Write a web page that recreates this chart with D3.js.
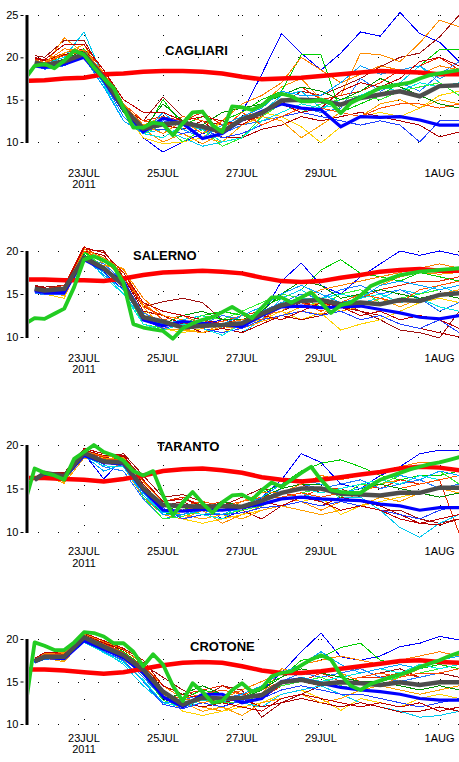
<!DOCTYPE html>
<html>
<head>
<meta charset="utf-8">
<script src="https://cdn.jsdelivr.net/npm/d3@7"></script>
<style>
  body { margin: 0; background: #fff; }
  svg { display: block; }
  text { font-family: "Liberation Sans", Arial, sans-serif; }
</style>
</head>
<body>
<div id="chart"></div>
<script>
// time axis, in days from 23JUL2011 00Z
const daysEns = [-1.25, -1, -0.5, 0, 0.5, 1, 1.5, 2, 2.5, 3, 3.5, 4, 4.5, 5, 5.5, 6, 6.5, 7, 7.5, 8, 8.5, 9, 9.5, 10];
const daysClim = [-1.5, -1, -0.5, 0, 0.5, 1, 1.5, 2, 2.5, 3, 3.5, 4, 4.5, 5, 5.5, 6, 6.5, 7, 7.5, 8, 8.5, 9, 9.5, 10];
const daysOper = [-1.5, -1.25, -1, -0.75, -0.5, -0.25, 0, 0.25, 0.5, 0.75, 1, 1.25, 1.5, 1.75, 2, 2.25, 2.5, 2.75,
  3, 3.25, 3.5, 3.75, 4, 4.25, 4.5, 4.75, 5, 5.25, 5.5, 5.75, 6, 6.25, 6.5, 6.75, 7, 7.25, 7.5, 7.75, 8, 8.25,
  8.5, 8.75, 9, 9.25, 9.5, 9.75, 10];

const dateTicks = [0, 2, 4, 6, 9];
const dateLabels = ["23JUL", "25JUL", "27JUL", "29JUL", "1AUG"];
const yearLabel = "2011";

const memberColors = ["#0000ff", "#a01010", "#ff8c00", "#ffd200", "#00d000", "#e82800", "#00c8f0",
  "#1e78ff", "#b00000", "#30f030", "#ffa000", "#2040ff", "#00e8e0", "#ff5000",
  "#009000", "#ff7f00", "#00a0ff", "#c00000"];

// ---- CAGLIARI ----
const cagliariMembers = [
  [19.0, 18.9, 19.3, 20.0, 17.0, 13.5, 10.5, 8.8, 10.0, 11.0, 11.5, 13.5, 18.0, 22.8, 20.5, 18.5, 20.5, 23.0, 22.5, 25.3, 22.8, 21.8, 19.5, 19.0],
  [20.2, 20.0, 22.0, 22.0, 18.0, 14.5, 12.5, 15.3, 13.0, 12.5, 12.0, 12.5, 13.0, 14.5, 16.0, 15.5, 16.5, 17.5, 18.9, 20.0, 20.5, 22.4, 25.0, 25.5],
  [19.5, 19.0, 22.3, 20.5, 17.8, 14.0, 11.5, 10.0, 11.0, 9.8, 11.0, 12.5, 14.5, 16.5, 17.5, 15.0, 15.5, 20.5, 20.3, 19.5, 21.7, 24.4, 23.6, 24.4],
  [19.2, 18.8, 19.8, 20.5, 17.0, 13.5, 10.5, 9.8, 10.0, 10.5, 12.5, 12.0, 13.5, 13.0, 11.8, 9.9, 11.8, 13.0, 13.5, 13.0, 14.0, 15.5, 16.0, 16.0],
  [19.6, 19.4, 20.0, 21.0, 18.0, 14.5, 11.0, 15.0, 12.0, 13.0, 12.5, 13.5, 15.0, 16.0, 20.3, 20.3, 13.5, 14.5, 15.5, 17.0, 19.0, 20.9, 20.9, 20.9],
  [19.8, 19.6, 20.5, 21.0, 18.5, 14.5, 12.5, 13.0, 12.5, 13.5, 12.0, 12.5, 13.5, 15.5, 16.5, 15.0, 15.5, 16.0, 17.0, 18.5, 19.0, 20.0, 18.5, 17.5],
  [19.3, 19.2, 20.0, 23.0, 17.5, 13.5, 11.0, 11.5, 10.5, 9.5, 10.0, 12.0, 13.5, 15.5, 16.0, 14.0, 15.0, 15.5, 16.5, 17.0, 19.0, 17.0, 15.5, 15.0],
  [19.0, 18.6, 19.0, 20.2, 17.0, 13.0, 11.0, 12.5, 12.0, 11.5, 11.0, 12.0, 12.5, 13.0, 14.0, 13.5, 14.0, 17.5, 16.0, 17.0, 16.0, 18.0, 19.5, 18.0],
  [19.9, 19.6, 20.3, 21.0, 18.0, 14.0, 12.5, 12.0, 11.5, 12.5, 10.5, 10.5, 11.5, 12.0, 13.0, 12.5, 13.0, 13.5, 13.0, 12.5, 12.0, 10.6, 11.2, 11.5],
  [19.5, 19.3, 19.6, 21.0, 17.5, 13.5, 11.0, 12.0, 10.0, 11.5, 9.5, 10.5, 13.0, 14.5, 13.5, 14.5, 15.0, 15.5, 15.0, 16.0, 16.5, 17.0, 15.5, 16.0],
  [19.4, 19.2, 20.5, 21.5, 17.5, 14.0, 12.0, 13.0, 12.0, 10.5, 10.0, 12.0, 13.0, 12.5, 10.5, 12.0, 13.5, 13.0, 14.5, 15.0, 14.0, 15.0, 14.5, 15.5],
  [19.1, 18.9, 19.2, 20.2, 17.0, 13.5, 11.5, 11.5, 11.0, 11.5, 10.5, 11.0, 12.0, 13.0, 13.5, 13.0, 12.5, 12.0, 12.5, 12.0, 10.0, 12.5, 12.6, 12.6],
  [19.2, 19.0, 19.3, 20.5, 16.8, 12.5, 11.0, 10.5, 12.0, 11.5, 10.0, 10.5, 12.5, 13.5, 14.5, 14.0, 14.5, 15.5, 16.5, 16.0, 17.0, 16.5, 17.0, 16.0],
  [19.6, 19.4, 20.2, 20.7, 18.0, 14.5, 12.5, 12.0, 13.0, 12.5, 11.5, 13.5, 12.0, 13.0, 14.0, 14.0, 13.5, 13.0, 14.0, 14.5, 14.5, 14.0, 14.5, 15.0],
  [19.3, 19.1, 19.8, 20.8, 17.2, 13.5, 11.5, 14.5, 12.5, 12.0, 13.5, 14.0, 14.5, 15.5, 16.5, 16.0, 15.0, 16.0, 17.5, 16.5, 15.5, 14.5, 14.0, 14.5],
  [19.7, 19.4, 21.0, 20.8, 18.2, 14.5, 12.0, 11.0, 12.5, 11.0, 12.5, 14.5, 15.5, 17.0, 20.0, 18.5, 17.0, 18.0, 19.0, 18.5, 18.0, 19.0, 18.5, 19.0],
  [19.0, 18.7, 19.5, 20.0, 16.5, 12.5, 11.0, 13.5, 11.5, 10.5, 12.0, 13.0, 14.0, 16.0, 15.5, 15.5, 17.0, 19.0, 18.0, 18.5, 19.0, 17.5, 18.5, 18.0],
  [20.0, 19.7, 21.5, 21.5, 18.5, 15.0, 13.5, 13.5, 12.5, 13.0, 12.5, 12.0, 13.5, 14.5, 13.5, 14.0, 16.0, 17.0, 16.5, 17.5, 19.5, 20.0, 19.0, 18.5]
];
const cagliariCtrl = [19.0, 18.8, 19.2, 20.0, 17.3, 13.8, 11.2, 12.8, 12.2, 10.4, 11.0, 12.6, 13.6, 14.5, 14.0, 13.8, 11.8, 13.0, 12.9, 13.0, 12.6, 12.0, 12.0, 12.0];
const cagliariMean = [19.4, 19.1, 19.5, 20.4, 17.6, 14.0, 11.6, 12.1, 12.3, 11.8, 11.2, 12.7, 13.4, 14.9, 15.0, 14.9, 14.4, 15.2, 15.6, 16.0, 15.4, 16.6, 16.7, 16.8];
const cagliariClim = [17.2, 17.3, 17.5, 17.6, 18.0, 18.1, 18.3, 18.4, 18.4, 18.3, 18.1, 17.7, 17.4, 17.5, 17.6, 17.8, 18.0, 18.2, 18.4, 18.3, 18.2, 18.0, 18.0, 18.0];
const cagliariOper = [17.4, 19.0, 19.2, 18.7, 19.6, 20.8, 20.3, 18.8, 17.5, 16.4, 14.0, 11.7, 11.7, 12.3, 12.1, 10.8, 12.2, 13.5, 13.6, 12.0, 11.2, 14.2, 14.1,
  13.8, 14.3, 15.3, 15.7, 15.4, 14.8, 14.8, 15.0, 14.6, 13.4, 14.6, 15.2, 15.8, 16.4, 16.6, 16.8, 17.0, 17.5, 17.9, 18.1, 18.3, 18.5, 18.6, 18.7];

// ---- SALERNO ----
const salernoMembers = [
  [15.2, 15.0, 15.2, 19.5, 17.5, 15.5, 12.5, 11.5, 11.0, 11.5, 12.0, 11.5, 12.5, 16.5, 18.6, 16.0, 15.0, 17.0, 18.5, 20.0, 19.5, 20.0, 19.5, 19.5],
  [16.0, 15.8, 16.0, 20.2, 20.0, 17.0, 13.5, 14.1, 14.5, 14.0, 12.0, 11.5, 12.5, 13.0, 14.0, 13.5, 14.0, 13.0, 12.0, 10.8, 10.5, 9.9, 13.0, 13.5],
  [15.5, 15.3, 15.5, 20.3, 18.5, 17.5, 14.0, 12.0, 11.0, 10.5, 11.5, 11.0, 12.0, 12.5, 13.0, 12.6, 14.0, 14.5, 16.0, 17.0, 17.5, 17.3, 17.5, 17.8],
  [15.4, 15.0, 14.5, 19.8, 19.0, 17.0, 13.0, 11.0, 10.5, 11.0, 10.5, 11.5, 12.0, 13.0, 12.0, 12.8, 10.8, 11.5, 12.0, 13.0, 14.0, 14.5, 14.0, 14.5],
  [15.6, 15.4, 15.8, 20.0, 18.0, 16.0, 12.5, 11.5, 12.0, 12.5, 13.0, 12.5, 13.5, 14.5, 15.5, 17.8, 19.0, 17.4, 17.0, 16.5, 17.5, 17.0, 16.5, 16.5],
  [15.8, 15.6, 16.0, 20.5, 19.0, 17.5, 13.5, 12.5, 11.5, 12.0, 11.0, 12.5, 13.0, 14.0, 13.5, 14.5, 14.0, 14.5, 15.5, 16.0, 16.5, 16.5, 17.0, 17.0],
  [15.3, 15.1, 15.0, 19.0, 17.5, 15.0, 12.0, 11.5, 12.0, 12.5, 11.0, 10.5, 12.0, 14.5, 15.5, 14.0, 13.5, 14.0, 14.5, 15.5, 15.0, 16.0, 15.0, 14.5],
  [15.1, 14.9, 15.3, 19.3, 18.5, 16.5, 12.8, 11.8, 11.0, 11.5, 12.5, 12.0, 13.0, 14.0, 15.0, 14.5, 15.5, 16.0, 15.0, 15.5, 14.5, 13.0, 14.0, 15.5],
  [15.9, 15.7, 15.5, 20.0, 19.5, 17.0, 13.0, 12.5, 11.5, 10.5, 11.0, 10.5, 11.5, 12.5, 12.0, 12.5, 13.5, 13.0, 12.5, 11.5, 11.0, 10.5, 10.0, 11.0],
  [15.5, 15.2, 15.4, 19.8, 18.2, 16.0, 11.5, 11.0, 11.5, 12.5, 12.0, 13.0, 14.0, 15.0, 14.5, 13.5, 15.0, 15.5, 14.0, 14.5, 15.0, 15.5, 16.0, 16.5],
  [15.6, 15.3, 14.8, 19.0, 18.3, 18.0, 13.5, 11.0, 10.8, 10.5, 11.2, 11.0, 11.8, 12.5, 13.5, 14.0, 13.0, 13.5, 14.5, 13.5, 14.5, 15.0, 15.5, 15.0],
  [15.2, 15.0, 15.0, 19.5, 18.0, 16.0, 12.0, 11.0, 11.5, 11.0, 10.5, 11.0, 12.0, 12.5, 13.0, 12.5, 13.0, 12.0, 12.5, 11.5, 11.0, 12.0, 10.5, 11.5],
  [15.4, 15.1, 15.2, 19.6, 17.0, 15.0, 11.5, 10.8, 11.5, 11.0, 10.2, 11.5, 12.5, 14.0, 14.5, 14.5, 15.0, 14.5, 15.0, 14.0, 14.5, 13.5, 13.0, 12.0],
  [15.7, 15.5, 15.7, 20.0, 18.8, 17.0, 13.8, 12.0, 12.5, 11.5, 11.8, 12.5, 12.0, 13.5, 14.0, 13.0, 14.0, 15.0, 14.5, 14.0, 15.5, 16.0, 16.5, 16.5],
  [15.5, 15.3, 15.5, 19.6, 18.0, 16.5, 12.0, 11.5, 12.5, 13.0, 12.0, 12.0, 13.0, 15.0, 16.5, 16.0, 14.5, 15.0, 15.5, 15.0, 14.5, 15.0, 14.5, 14.0],
  [15.7, 15.4, 15.6, 20.2, 19.2, 17.8, 14.5, 12.5, 12.0, 11.0, 11.5, 12.0, 12.5, 13.0, 14.5, 15.5, 16.0, 16.5, 17.0, 17.5, 18.0, 18.5, 18.0, 18.5],
  [15.3, 15.0, 15.1, 19.2, 17.2, 15.5, 12.0, 11.5, 11.0, 11.5, 11.5, 12.5, 13.5, 15.0, 16.0, 15.0, 14.0, 14.5, 16.0, 16.5, 16.0, 15.5, 16.0, 16.5],
  [15.8, 15.6, 15.8, 20.4, 19.8, 17.5, 14.0, 13.0, 12.5, 12.0, 11.5, 11.5, 12.5, 12.0, 13.0, 14.0, 13.5, 12.5, 13.0, 12.0, 12.5, 12.0, 11.0, 10.5]
];
const salernoCtrl = [15.4, 15.2, 15.2, 19.0, 17.8, 16.5, 12.0, 11.3, 11.8, 11.6, 11.4, 11.2, 12.5, 13.5, 13.6, 13.4, 13.5, 13.6, 13.2, 12.8, 12.3, 12.1, 12.5, 12.6];
const salernoMean = [15.6, 15.4, 15.6, 19.2, 18.0, 16.0, 12.3, 11.8, 11.1, 11.3, 11.4, 11.6, 12.7, 13.7, 14.2, 14.3, 13.8, 14.0, 13.8, 14.3, 14.2, 14.9, 15.1, 15.2];
const salernoClim = [16.7, 16.7, 16.6, 16.6, 16.5, 16.8, 17.2, 17.5, 17.6, 17.7, 17.6, 17.4, 16.9, 16.5, 16.4, 16.5, 16.9, 17.2, 17.6, 17.8, 17.9, 17.7, 17.7, 17.8];
const salernoOper = [11.5, 12.2, 12.1, 12.7, 13.3, 15.8, 19.0, 19.4, 18.9, 18.2, 16.3, 11.5, 11.1, 10.9, 10.7, 9.8, 11.0, 11.6, 12.0, 12.3, 12.9, 13.5, 12.8,
  12.2, 13.4, 14.6, 14.6, 14.0, 14.6, 15.2, 14.0, 12.8, 13.7, 14.0, 14.8, 15.9, 16.4, 16.8, 17.2, 17.4, 17.6, 17.7, 17.8, 17.9, 18.0, 18.1, 18.2];

// ---- TARANTO ----
const tarantoMembers = [
  [16.0, 16.5, 16.0, 19.0, 16.1, 18.5, 15.0, 12.5, 12.0, 13.0, 11.5, 12.5, 14.0, 16.0, 19.0, 18.0, 15.5, 15.0, 16.5, 17.5, 19.0, 19.4, 19.4, 19.5],
  [16.2, 16.9, 16.8, 19.5, 18.5, 19.0, 16.5, 14.0, 14.3, 13.5, 13.0, 14.0, 15.0, 14.5, 15.5, 14.5, 15.0, 14.0, 12.5, 12.5, 11.5, 11.0, 11.5, 12.0],
  [16.1, 16.6, 16.5, 18.5, 18.0, 17.5, 14.0, 12.0, 11.5, 12.5, 11.0, 12.0, 13.0, 14.0, 13.5, 12.5, 13.5, 14.5, 15.5, 16.0, 16.5, 16.5, 17.0, 17.5],
  [15.9, 16.4, 15.8, 18.8, 18.5, 18.0, 15.5, 12.8, 11.5, 11.0, 11.5, 12.0, 12.5, 13.0, 13.5, 14.0, 12.0, 13.0, 13.5, 14.0, 14.5, 14.0, 14.5, 15.0],
  [16.1, 16.8, 16.4, 19.3, 18.3, 18.5, 14.5, 12.0, 12.5, 13.5, 13.0, 13.5, 14.5, 15.5, 17.0, 17.9, 18.3, 17.5, 16.5, 16.0, 16.5, 16.5, 17.0, 17.5],
  [16.3, 16.9, 16.6, 19.2, 18.6, 18.8, 15.8, 13.5, 14.0, 13.0, 13.5, 13.0, 14.0, 14.5, 14.0, 15.0, 15.0, 15.5, 15.0, 16.0, 15.5, 16.0, 9.8, 11.0],
  [16.0, 16.5, 16.2, 18.6, 18.2, 17.8, 14.5, 12.2, 12.5, 12.0, 12.5, 12.5, 13.0, 14.0, 14.5, 13.5, 14.0, 14.0, 12.5, 10.5, 9.4, 11.0, 12.0, 12.5],
  [15.9, 16.5, 16.3, 19.0, 17.5, 17.0, 13.8, 11.5, 12.0, 13.0, 12.5, 13.0, 13.5, 15.0, 15.5, 15.0, 15.5, 16.0, 15.0, 15.5, 16.0, 15.0, 15.5, 16.0],
  [16.2, 16.7, 16.6, 19.4, 18.8, 18.7, 15.5, 13.0, 13.5, 12.5, 12.0, 12.5, 11.5, 13.0, 13.5, 13.0, 14.0, 13.5, 13.0, 12.0, 11.0, 10.8, 11.5, 11.0],
  [16.0, 16.6, 16.2, 19.0, 18.0, 18.2, 14.0, 11.5, 11.8, 12.5, 12.0, 12.5, 13.0, 14.0, 14.5, 15.0, 14.0, 15.5, 15.5, 16.5, 16.0, 17.0, 15.5, 16.0],
  [16.1, 16.5, 15.6, 18.5, 18.4, 18.6, 15.0, 12.5, 12.0, 11.5, 12.0, 11.5, 12.5, 13.0, 12.5, 12.0, 12.5, 13.0, 14.0, 13.5, 14.5, 15.0, 14.5, 15.5],
  [16.0, 16.6, 16.1, 18.9, 17.8, 18.0, 15.0, 12.8, 11.5, 12.0, 12.0, 12.2, 12.8, 13.0, 13.5, 13.0, 13.5, 13.0, 12.5, 12.0, 11.5, 12.5, 13.0, 12.5],
  [15.9, 16.4, 16.0, 18.7, 17.6, 17.5, 14.2, 12.3, 12.5, 12.0, 11.5, 13.0, 13.5, 14.5, 15.0, 14.5, 15.0, 15.5, 16.0, 15.5, 16.5, 16.0, 16.5, 16.0],
  [16.2, 16.8, 16.5, 19.1, 18.4, 18.3, 15.2, 13.0, 13.0, 13.5, 13.0, 13.5, 14.0, 14.0, 14.5, 14.0, 14.5, 15.0, 15.5, 15.0, 15.5, 16.0, 16.5, 16.5],
  [16.1, 16.7, 16.3, 19.0, 18.2, 18.0, 14.8, 12.5, 13.0, 12.5, 13.5, 13.0, 14.0, 15.0, 15.5, 15.5, 14.5, 15.0, 15.5, 15.0, 14.5, 14.0, 14.5, 14.0],
  [16.2, 16.8, 16.7, 19.3, 18.7, 18.5, 15.8, 13.5, 12.5, 13.0, 12.5, 13.5, 14.5, 14.5, 15.5, 16.5, 16.0, 16.5, 17.0, 17.5, 18.0, 18.0, 18.5, 18.5],
  [15.9, 16.4, 16.1, 18.8, 17.0, 17.8, 14.2, 12.0, 12.0, 12.5, 12.0, 13.0, 14.0, 15.5, 16.0, 15.5, 14.5, 15.0, 16.0, 16.5, 16.0, 17.0, 16.5, 17.0],
  [16.3, 16.9, 16.7, 19.6, 19.0, 18.8, 16.0, 13.5, 13.8, 13.0, 12.5, 13.0, 13.5, 13.0, 14.0, 13.5, 12.5, 13.0, 12.5, 11.5, 11.0, 11.5, 12.0, 11.5]
];
const tarantoCtrl = [16.0, 16.6, 16.2, 18.8, 18.0, 17.8, 14.8, 12.5, 12.4, 12.6, 12.5, 12.8, 13.2, 13.8, 14.0, 13.8, 13.7, 13.6, 13.2, 13.0, 12.5, 12.8, 12.8, 12.8];
const tarantoMean = [16.0, 16.8, 16.4, 19.1, 18.1, 18.0, 15.0, 13.1, 13.0, 12.9, 13.0, 12.9, 13.6, 14.5, 15.0, 15.0, 14.4, 14.3, 14.2, 14.5, 14.5, 15.1, 15.1, 15.2];
const tarantoClim = [16.2, 16.2, 16.1, 16.0, 15.8, 16.1, 16.5, 17.0, 17.2, 17.3, 17.1, 16.8, 16.3, 16.0, 15.8, 16.0, 16.3, 16.6, 16.9, 17.3, 17.5, 17.4, 17.1, 17.0];
const tarantoOper = [13.3, 17.3, 16.8, 16.5, 16.0, 18.4, 19.2, 20.0, 19.2, 18.8, 18.2, 17.0, 16.5, 17.0, 14.2, 11.9, 13.4, 14.6, 13.3, 12.2, 13.4, 14.2, 14.3,
  13.7, 14.8, 15.7, 15.2, 16.0, 16.8, 17.5, 16.0, 14.8, 14.6, 14.5, 14.5, 15.3, 16.0, 16.4, 16.8, 17.2, 17.5, 17.8, 18.0, 18.3, 18.6, 18.8, 19.0];

// ---- CROTONE ----
const crotoneMembers = [
  [17.3, 18.0, 18.0, 20.0, 19.0, 18.0, 16.5, 13.0, 12.0, 12.5, 12.0, 13.0, 14.0, 16.0, 18.5, 20.7, 17.9, 17.5, 18.0, 19.1, 19.5, 20.3, 19.9, 19.5],
  [17.6, 18.3, 18.5, 20.5, 19.5, 18.8, 17.0, 15.5, 14.0, 13.0, 14.5, 14.0, 10.8, 12.5, 13.5, 14.5, 15.0, 15.5, 16.0, 16.5, 15.5, 16.0, 15.5, 16.0],
  [17.5, 18.2, 18.3, 20.5, 19.3, 18.5, 16.0, 13.0, 12.5, 12.0, 11.5, 12.5, 13.5, 16.5, 16.0, 15.5, 16.0, 15.0, 14.5, 15.5, 16.5, 17.0, 16.5, 17.0],
  [17.2, 17.7, 17.5, 19.8, 19.0, 17.5, 16.0, 13.5, 11.5, 11.0, 11.5, 12.0, 12.5, 13.5, 14.0, 13.0, 11.6, 13.0, 12.5, 12.0, 13.0, 13.5, 13.0, 13.5],
  [17.5, 18.1, 18.0, 20.8, 19.4, 18.5, 16.8, 13.5, 13.0, 14.0, 13.5, 13.0, 14.5, 15.5, 17.5, 17.8, 19.0, 19.5, 17.5, 17.0, 16.5, 17.0, 16.5, 16.0],
  [17.6, 18.4, 18.2, 20.3, 19.6, 18.3, 16.8, 14.5, 13.5, 14.0, 14.5, 13.5, 13.0, 14.5, 15.0, 16.0, 15.0, 15.5, 15.5, 16.0, 15.5, 16.0, 16.5, 16.5],
  [17.2, 17.6, 17.8, 19.9, 18.6, 17.0, 14.5, 12.5, 12.0, 12.5, 13.0, 12.5, 12.0, 13.5, 14.0, 14.5, 13.5, 12.5, 12.0, 11.5, 10.8, 11.0, 11.5, 11.0],
  [17.3, 17.9, 17.6, 20.0, 18.7, 17.8, 15.5, 13.0, 12.8, 13.5, 13.0, 13.5, 14.0, 15.0, 16.0, 15.5, 16.0, 16.5, 15.5, 15.0, 15.5, 16.0, 16.5, 16.0],
  [17.7, 18.3, 18.4, 20.6, 19.5, 18.7, 17.2, 14.0, 12.5, 12.0, 12.5, 13.0, 12.0, 12.5, 13.0, 12.5, 12.0, 12.5, 12.0, 11.4, 11.5, 12.0, 11.5, 12.0],
  [17.4, 18.0, 17.9, 20.4, 19.2, 18.0, 15.8, 12.8, 12.0, 13.0, 12.5, 12.5, 13.5, 14.5, 15.0, 15.5, 14.5, 14.0, 15.0, 15.5, 16.0, 16.5, 17.0, 17.5],
  [17.5, 17.8, 17.3, 20.0, 19.0, 18.2, 16.2, 13.5, 12.5, 11.5, 12.0, 11.0, 12.5, 13.0, 13.5, 12.5, 13.0, 14.0, 14.5, 14.0, 13.5, 14.0, 14.5, 14.0],
  [17.3, 17.7, 17.6, 19.7, 18.5, 17.5, 15.0, 12.3, 11.8, 12.5, 12.0, 12.8, 13.0, 14.0, 14.5, 14.0, 13.5, 13.5, 13.0, 12.5, 12.0, 12.5, 13.0, 12.5],
  [17.2, 17.8, 17.7, 19.6, 18.4, 17.2, 15.2, 12.5, 12.0, 12.8, 12.5, 13.5, 14.0, 15.0, 15.5, 15.0, 15.5, 16.0, 16.5, 16.0, 17.0, 16.5, 17.0, 16.5],
  [17.6, 18.2, 18.1, 20.2, 19.4, 18.4, 16.5, 13.5, 13.0, 13.5, 14.0, 13.5, 14.0, 15.0, 15.0, 14.5, 15.0, 15.5, 16.0, 15.5, 16.0, 16.0, 16.5, 16.5],
  [17.4, 18.0, 17.8, 20.3, 19.1, 18.0, 16.0, 13.0, 13.5, 14.5, 13.5, 13.0, 14.0, 15.5, 16.5, 16.0, 15.5, 15.0, 15.0, 14.5, 14.0, 14.5, 14.0, 14.5],
  [17.6, 18.3, 18.4, 20.6, 19.7, 18.8, 17.0, 14.5, 13.0, 12.5, 13.0, 14.0, 15.0, 16.0, 17.0, 17.5, 18.0, 17.5, 17.0, 17.5, 18.0, 18.5, 18.0, 18.5],
  [17.2, 17.7, 17.6, 19.8, 18.5, 17.4, 15.0, 12.5, 12.5, 13.0, 12.5, 13.5, 14.5, 16.0, 17.0, 18.5, 17.0, 16.0, 16.5, 17.0, 16.5, 17.5, 18.0, 17.5],
  [17.7, 18.4, 18.5, 20.7, 19.8, 18.9, 17.5, 14.5, 13.5, 13.0, 12.5, 12.0, 11.5, 13.0, 13.5, 13.0, 12.5, 12.0, 12.5, 12.0, 12.5, 11.5, 12.0, 11.0]
];
const crotoneCtrl = [17.3, 17.8, 17.7, 19.8, 18.8, 17.8, 16.0, 13.2, 12.0, 13.5, 13.5, 12.5, 13.0, 15.0, 15.3, 14.8, 14.3, 14.0, 13.8, 13.5, 13.0, 12.8, 12.8, 12.8];
const crotoneMean = [17.4, 17.9, 17.9, 20.2, 19.1, 18.1, 16.4, 13.8, 12.3, 13.1, 13.0, 13.1, 13.4, 14.9, 15.2, 14.7, 14.9, 14.8, 14.6, 14.9, 14.6, 14.9, 14.9, 14.9];
const crotoneClim = [16.4, 16.4, 16.3, 16.1, 15.9, 16.1, 16.5, 16.9, 17.2, 17.3, 17.2, 16.8, 16.3, 16.0, 16.0, 16.2, 16.5, 16.8, 17.1, 17.4, 17.5, 17.3, 17.2, 17.2];
const crotoneOper = [11.4, 19.6, 19.2, 18.7, 18.7, 19.6, 20.8, 20.7, 20.3, 19.5, 19.5, 18.5, 16.8, 18.2, 17.0, 14.5, 12.7, 14.8, 13.8, 12.5, 12.7, 14.0, 14.8,
  13.8, 14.2, 15.6, 16.0, 16.2, 16.9, 17.6, 18.1, 17.6, 15.8, 14.5, 14.0, 14.7, 15.1, 15.5, 15.8, 16.2, 16.7, 17.1, 17.5, 18.0, 18.4, 18.7, 19.0];

// ---- layout ----
const width = 459;
const height = 762;
const axisX = 27.5;

const panels = [
  { name: "CAGLIARI", members: cagliariMembers, ctrl: cagliariCtrl, mean: cagliariMean, clim: cagliariClim, oper: cagliariOper,
    yDomain: [10, 25], yTop: 15, yBottom: 142, ticks: [10, 15, 20, 25], titleX: 165, titleY: 55, labelY: 177, yearY: 188 },
  { name: "SALERNO", members: salernoMembers, ctrl: salernoCtrl, mean: salernoMean, clim: salernoClim, oper: salernoOper,
    yDomain: [10, 20], yTop: 251, yBottom: 337, ticks: [10, 15, 20], titleX: 133, titleY: 260, labelY: 362, yearY: 373 },
  { name: "TARANTO", members: tarantoMembers, ctrl: tarantoCtrl, mean: tarantoMean, clim: tarantoClim, oper: tarantoOper,
    yDomain: [10, 20], yTop: 445, yBottom: 532, ticks: [10, 15, 20], titleX: 157, titleY: 451, labelY: 555, yearY: 567 },
  { name: "CROTONE", members: crotoneMembers, ctrl: crotoneCtrl, mean: crotoneMean, clim: crotoneClim, oper: crotoneOper,
    yDomain: [10, 20], yTop: 639, yBottom: 724, ticks: [10, 15, 20], titleX: 190, titleY: 651, labelY: 742, yearY: 753 }
];

const svg = d3.select("#chart")
  .append("svg")
  .attr("width", width)
  .attr("height", height)
  .attr("viewBox", [0, 0, width, height]);

const x = d3.scaleLinear().domain([0, 9]).range([84, 439.5]);

panels.forEach((p, pi) => drawPanel(p, pi));

function drawPanel(p, pi) {
  const y = d3.scaleLinear().domain(p.yDomain).range([p.yBottom, p.yTop]);
  const g = svg.append("g");

  const clipId = "clip" + pi;
  g.append("clipPath")
    .attr("id", clipId)
    .append("rect")
    .attr("x", axisX + 1.5)
    .attr("y", p.yTop - 12)
    .attr("width", width - axisX)
    .attr("height", p.yBottom - p.yTop + 26);

  const plot = g.append("g").attr("clip-path", `url(#${clipId})`);

  // sparse dotted grid
  const grid = plot.append("g")
    .attr("stroke", "#000")
    .attr("stroke-dasharray", "1,19")
    .attr("stroke-width", 1)
    .attr("shape-rendering", "crispEdges");

  grid.selectAll("line.h")
    .data(p.ticks)
    .join("line")
    .attr("class", "h")
    .attr("x1", axisX + 10)
    .attr("x2", width)
    .attr("y1", (d) => Math.round(y(d)) + 0.5)
    .attr("y2", (d) => Math.round(y(d)) + 0.5);

  grid.selectAll("line.v")
    .data(dateTicks)
    .join("line")
    .attr("class", "v")
    .attr("x1", (d) => Math.round(x(d)) + 0.5)
    .attr("x2", (d) => Math.round(x(d)) + 0.5)
    .attr("y1", p.yTop)
    .attr("y2", p.yBottom);

  const line = (days) => d3.line()
    .x((d, i) => x(days[i]))
    .y((d) => y(d));

  // ensemble members
  plot.append("g")
    .attr("fill", "none")
    .attr("stroke-width", 1)
    .attr("shape-rendering", "crispEdges")
    .selectAll("path")
    .data(p.members)
    .join("path")
    .attr("stroke", (d, i) => memberColors[i % memberColors.length])
    .attr("d", line(daysEns));

  // control run
  plot.append("path")
    .datum(p.ctrl)
    .attr("fill", "none")
    .attr("stroke", "#0000ff")
    .attr("stroke-width", 3.2)
    .attr("d", line(daysEns));

  // climatology
  plot.append("path")
    .datum(p.clim)
    .attr("fill", "none")
    .attr("stroke", "#ff0000")
    .attr("stroke-width", 4.5)
    .attr("d", line(daysClim));

  // ensemble mean
  plot.append("path")
    .datum(p.mean)
    .attr("fill", "none")
    .attr("stroke", "#4d4d4d")
    .attr("stroke-width", 4.5)
    .attr("d", line(daysEns));

  // operational run
  plot.append("path")
    .datum(p.oper)
    .attr("fill", "none")
    .attr("stroke", "#22cc22")
    .attr("stroke-width", 3.8)
    .attr("stroke-linejoin", "round")
    .attr("d", line(daysOper));

  // y axis
  const yAxis = g.append("g")
    .attr("transform", `translate(${axisX - 4},0)`)
    .call(d3.axisLeft(y).tickValues(p.ticks).tickSize(3).tickPadding(2));
  yAxis.select(".domain").remove();
  yAxis.selectAll("text")
    .attr("font-size", 11)
    .attr("font-family", "Liberation Sans, Arial, sans-serif")
    .attr("fill", "#000");

  g.append("rect")
    .attr("x", axisX - 2)
    .attr("y", p.yTop)
    .attr("width", 3)
    .attr("height", p.yBottom - p.yTop + 1)
    .attr("fill", "#000");

  // date labels
  g.append("g")
    .attr("font-size", 11)
    .attr("text-anchor", "middle")
    .selectAll("text")
    .data(dateTicks)
    .join("text")
    .attr("x", (d) => x(d))
    .attr("y", p.labelY)
    .text((d, i) => dateLabels[i]);

  g.append("text")
    .attr("x", x(dateTicks[0]))
    .attr("y", p.yearY)
    .attr("font-size", 11)
    .attr("text-anchor", "middle")
    .text(yearLabel);

  g.append("text")
    .attr("x", p.titleX)
    .attr("y", p.titleY)
    .attr("font-size", 13)
    .attr("font-weight", "bold")
    .text(p.name);
}
</script>
</body>
</html>
